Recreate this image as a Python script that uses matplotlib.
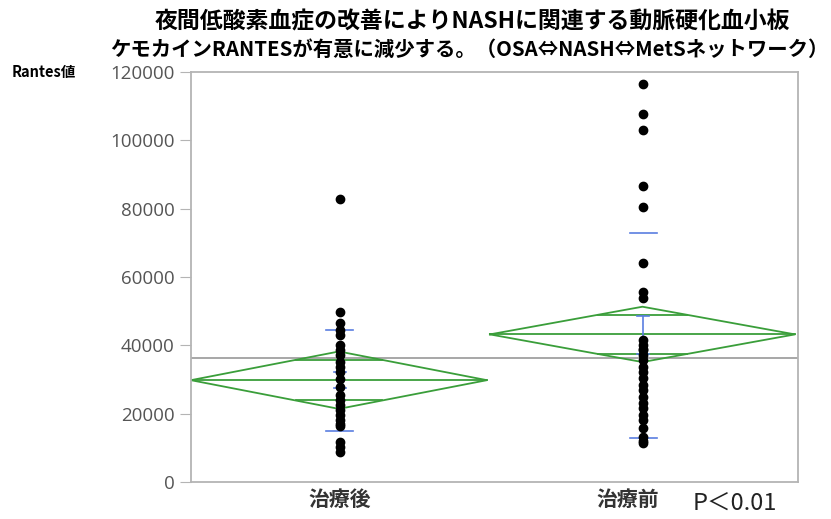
"""Means diamond plot of RANTES before / after treatment."""

import matplotlib

matplotlib.use("Agg")

import matplotlib.pyplot as plt
import numpy as np

plt.rcParams["font.family"] = ["Noto Sans CJK JP", "DejaVu Sans"]

TITLE_1 = "夜間低酸素血症の改善によりNASHに関連する動脈硬化血小板"
TITLE_2 = "ケモカインRANTESが有意に減少する。（OSA⇔NASH⇔MetSネットワーク）"
Y_LABEL = "Rantes値"
P_TEXT = "P＜0.01"

categories = ["治療後", "治療前"]

after_values = [82700, 49700, 46500, 44500, 43000, 40100, 38700, 37200, 35200,
                33800, 32300, 30000, 27900, 25500, 24000, 22600, 21100, 19600,
                18200, 17000, 16500, 11800, 10300, 8900]
before_values = [116600, 107700, 103100, 86700, 80500, 64000, 55700, 53800,
                 41600, 40100, 39000, 38700, 37200, 35700, 33800, 32300, 30400,
                 28400, 26900, 25000, 23000, 21600, 19600, 18200, 15700, 13300,
                 12000, 11300]

# summary statistics
group_means = [29800, 43200]
ci_half = [8400, 8100]
sd_lo = [15000, 13000]
sd_hi = [44500, 73000]
se_lo = [27400, 37600]
se_hi = [32300, 48600]
grand_mean = 36400

y_ticks = [0, 20000, 40000, 60000, 80000, 100000, 120000]

GREEN = "#3a9e3a"
BLUE = "#5a7ee0"
FRAME = "#b4b4b4"


def main() -> None:
    fig = plt.figure(figsize=(8.31, 5.19), dpi=100)
    ax = fig.add_axes([0.2298, 0.0713, 0.7305, 0.79])

    group_x = [0.49, 1.49]
    diamond_lr = [(0.0, 0.975), (0.985, 1.99)]
    values = [after_values, before_values]

    ax.axhline(grand_mean, color="#a0a0a0", linewidth=1.3, zorder=1)

    for i in range(2):
        left, right = diamond_lr[i]
        cx = (left + right) / 2
        mean = group_means[i]
        h = ci_half[i]
        ax.plot([left, cx, right, cx, left], [mean, mean + h, mean, mean - h, mean],
                color=GREEN, linewidth=1.3, zorder=2)
        ax.plot([left, right], [mean, mean], color=GREEN, linewidth=1.3, zorder=2)
        # overlap marks
        off = h / np.sqrt(2)
        frac = 1 - 1 / np.sqrt(2)
        half_w = (right - left) / 2 * frac
        for y in (mean + off, mean - off):
            ax.plot([cx - half_w, cx + half_w], [y, y], color=GREEN, linewidth=1.3, zorder=2)

        gx = group_x[i]
        ax.plot([gx - 0.045, gx + 0.045], [sd_lo[i], sd_lo[i]], color=BLUE, linewidth=1.2, zorder=3)
        ax.plot([gx - 0.045, gx + 0.045], [sd_hi[i], sd_hi[i]], color=BLUE, linewidth=1.2, zorder=3)
        ax.plot([gx, gx], [se_lo[i], se_hi[i]], color=BLUE, linewidth=1.2, zorder=3)
        for y in (se_lo[i], se_hi[i]):
            ax.plot([gx - 0.02, gx + 0.02], [y, y], color=BLUE, linewidth=1.2, zorder=3)

        ax.plot(np.full(len(values[i]), gx), values[i], "o", color="black",
                markersize=6, zorder=4)

    ax.set_xlim(0, 2)
    ax.set_ylim(0, 120000)
    ax.set_yticks(y_ticks)
    ax.set_yticklabels([str(t) for t in y_ticks], family=["Open Sans", "DejaVu Sans"],
                       fontsize=13.5, color="#555555")
    ax.tick_params(axis="y", length=8, color=FRAME, pad=4)
    ax.set_xticks([0.49, 1.44])
    ax.set_xticklabels(categories, fontsize=15, color="#333333", fontweight="bold")
    ax.tick_params(axis="x", length=0, pad=5)
    for spine in ax.spines.values():
        spine.set_color(FRAME)
        spine.set_linewidth(1.3)

    fig.text(0.568, 0.958, TITLE_1, ha="center", va="center", fontsize=16.5,
             fontweight="bold")
    fig.text(0.565, 0.904, TITLE_2, ha="center", va="center", fontsize=14.7,
             fontweight="bold")
    fig.text(0.014, 0.861, Y_LABEL, ha="left", va="center", fontsize=10.5,
             fontweight="bold")
    fig.text(0.833, 0.031, P_TEXT, ha="left", va="center", fontsize=17,
             color="#222222")

    fig.savefig("out.png", dpi=100)
    plt.close(fig)


if __name__ == "__main__":
    main()
